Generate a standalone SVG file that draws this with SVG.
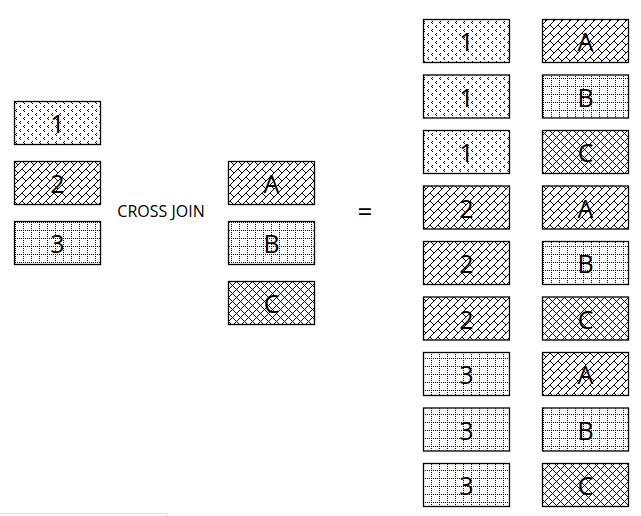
<svg xmlns="http://www.w3.org/2000/svg" width="641" height="516" viewBox="0 0 641 516">
<style>
.box{stroke:#000;stroke-width:1.3}
.t{font-family:"Open Sans","Noto Sans",sans-serif;font-size:25px;fill:#000;text-anchor:middle;dominant-baseline:central}
.lbl{font-family:"Open Sans","Noto Sans",sans-serif;font-size:16px;fill:#000;text-anchor:middle;dominant-baseline:central}
</style>
<defs>
<pattern id="conf" patternUnits="userSpaceOnUse" width="8" height="8" x="14" y="101">
<rect width="8" height="8" fill="#fff"/>
<path shape-rendering="crispEdges" fill="#000" d="M2 0h1v1h-1z M1 1h1v1h-1z M2 2h1v1h-1z M6 4h1v1h-1z M5 5h1v1h-1z M6 6h1v1h-1z"/>
</pattern>
<pattern id="brick" patternUnits="userSpaceOnUse" width="8" height="8" x="14" y="161">
<rect width="8" height="8" fill="#fff"/>
<path shape-rendering="crispEdges" fill="#000" d="M7 0h1v1h-1z M6 1h1v1h-1z M5 2h1v1h-1z M4 3h1v1h-1z M3 4h1v1h-1z M2 5h1v1h-1z M1 6h1v1h-1z M0 7h1v1h-1z M0 0h1v1h-1z M1 1h1v1h-1z M2 2h1v1h-1z M3 3h1v1h-1z"/>
</pattern>
<pattern id="grid" patternUnits="userSpaceOnUse" width="8" height="8" x="15" y="222">
<rect width="8" height="8" fill="#fff"/>
<path shape-rendering="crispEdges" fill="#000" d="M0 0h1v1h-1z M0 2h1v1h-1z M0 4h1v1h-1z M0 6h1v1h-1z M2 0h1v1h-1z M4 0h1v1h-1z M6 0h1v1h-1z"/>
</pattern>
<pattern id="cross" patternUnits="userSpaceOnUse" width="8" height="8" x="228" y="281">
<rect width="8" height="8" fill="#fff"/>
<path shape-rendering="crispEdges" fill="#000" d="M0 0h1v1h-1z M1 1h1v1h-1z M2 2h1v1h-1z M3 3h1v1h-1z M4 4h1v1h-1z M5 5h1v1h-1z M6 6h1v1h-1z M7 7h1v1h-1z M7 1h1v1h-1z M6 2h1v1h-1z M5 3h1v1h-1z M3 5h1v1h-1z M2 6h1v1h-1z M1 7h1v1h-1z"/>
</pattern>
</defs>
<rect width="641" height="516" fill="#fff"/>
<g id="left-1"><rect class="box" x="14.5" y="101.5" width="86" height="43" fill="url(#conf)"/><text class="t" x="57.5" y="123">1</text></g>
<g id="left-2"><rect class="box" x="14.5" y="161.5" width="86" height="43" fill="url(#brick)"/><text class="t" x="57.5" y="183">2</text></g>
<g id="left-3"><rect class="box" x="14.5" y="221.5" width="86" height="43" fill="url(#grid)"/><text class="t" x="57.5" y="243">3</text></g>
<g id="op-cross"><text class="lbl" x="161" y="211">CROSS JOIN</text></g>
<g id="mid-A"><rect class="box" x="228.5" y="161.5" width="86" height="43" fill="url(#brick)"/><text class="t" x="271.5" y="183">A</text></g>
<g id="mid-B"><rect class="box" x="228.5" y="221.5" width="86" height="43" fill="url(#grid)"/><text class="t" x="271.5" y="243">B</text></g>
<g id="mid-C"><rect class="box" x="228.5" y="281.5" width="86" height="43" fill="url(#cross)"/><text class="t" x="271.5" y="303">C</text></g>
<g id="op-eq"><text class="lbl" x="365" y="211" style="font-size:26px">=</text></g>
<g id="r1"><rect class="box" x="423.5" y="19.5" width="86" height="43" fill="url(#conf)"/><text class="t" x="466.5" y="41">1</text><rect class="box" x="542.5" y="19.5" width="86" height="43" fill="url(#brick)"/><text class="t" x="585.5" y="41">A</text></g>
<g id="r2"><rect class="box" x="423.5" y="75" width="86" height="43" fill="url(#conf)"/><text class="t" x="466.5" y="96.5">1</text><rect class="box" x="542.5" y="75" width="86" height="43" fill="url(#grid)"/><text class="t" x="585.5" y="96.5">B</text></g>
<g id="r3"><rect class="box" x="423.5" y="130.5" width="86" height="43" fill="url(#conf)"/><text class="t" x="466.5" y="152">1</text><rect class="box" x="542.5" y="130.5" width="86" height="43" fill="url(#cross)"/><text class="t" x="585.5" y="152">C</text></g>
<g id="r4"><rect class="box" x="423.5" y="186" width="86" height="43" fill="url(#brick)"/><text class="t" x="466.5" y="207.5">2</text><rect class="box" x="542.5" y="186" width="86" height="43" fill="url(#brick)"/><text class="t" x="585.5" y="207.5">A</text></g>
<g id="r5"><rect class="box" x="423.5" y="241.5" width="86" height="43" fill="url(#brick)"/><text class="t" x="466.5" y="263">2</text><rect class="box" x="542.5" y="241.5" width="86" height="43" fill="url(#grid)"/><text class="t" x="585.5" y="263">B</text></g>
<g id="r6"><rect class="box" x="423.5" y="297" width="86" height="43" fill="url(#brick)"/><text class="t" x="466.5" y="318.5">2</text><rect class="box" x="542.5" y="297" width="86" height="43" fill="url(#cross)"/><text class="t" x="585.5" y="318.5">C</text></g>
<g id="r7"><rect class="box" x="423.5" y="352.5" width="86" height="43" fill="url(#grid)"/><text class="t" x="466.5" y="374">3</text><rect class="box" x="542.5" y="352.5" width="86" height="43" fill="url(#brick)"/><text class="t" x="585.5" y="374">A</text></g>
<g id="r8"><rect class="box" x="423.5" y="408" width="86" height="43" fill="url(#grid)"/><text class="t" x="466.5" y="429.5">3</text><rect class="box" x="542.5" y="408" width="86" height="43" fill="url(#grid)"/><text class="t" x="585.5" y="429.5">B</text></g>
<g id="r9"><rect class="box" x="423.5" y="463.5" width="86" height="43" fill="url(#grid)"/><text class="t" x="466.5" y="485">3</text><rect class="box" x="542.5" y="463.5" width="86" height="43" fill="url(#cross)"/><text class="t" x="585.5" y="485">C</text></g>
<g id="connectors"/>
<path d="M0,513.5 H167.5 V516" fill="none" stroke="#e0e0e0" stroke-width="1"/>
</svg>
